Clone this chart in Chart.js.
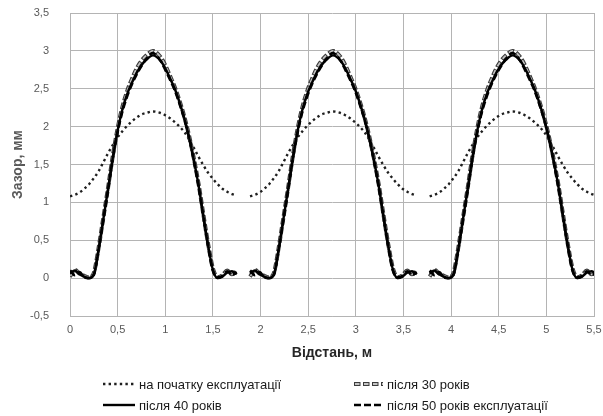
<!DOCTYPE html>
<html>
<head>
<meta charset="utf-8">
<script src="https://cdn.jsdelivr.net/npm/chart.js@4.4.1/dist/chart.umd.min.js"></script>
<style>
    html, body { margin: 0; padding: 0; background: #fff; }
    #wrap { width: 603px; height: 416px; }
</style>
</head>
<body>
<div id="wrap"><canvas id="gapChart" width="603" height="416"></canvas></div>
<script>
// ===========================
// Data
// ===========================

// distance along the track, m (null rows split the three sections)
const distance = [
    0, 0.05, 0.1, 0.15, 0.2, 0.25, 0.3, 0.35, 0.4, 0.45, 0.5, 0.55, 0.6, 0.65, 0.7, 0.75, 0.8, 0.87, 0.95, 1.0, 1.05, 1.1, 1.15, 1.2, 1.25, 1.3, 1.35, 1.4, 1.45, 1.5, 1.55, 1.6, 1.65, 1.7, 1.75,
    1.82,
    1.89, 1.94, 1.99, 2.04, 2.09, 2.14, 2.19, 2.24, 2.29, 2.34, 2.39, 2.44, 2.49, 2.54, 2.59, 2.64, 2.69, 2.76, 2.84, 2.89, 2.94, 2.99, 3.04, 3.09, 3.14, 3.19, 3.24, 3.29, 3.34, 3.39, 3.44, 3.49, 3.54, 3.59, 3.64,
    3.71,
    3.775, 3.825, 3.875, 3.925, 3.975, 4.025, 4.075, 4.125, 4.175, 4.225, 4.275, 4.325, 4.375, 4.425, 4.475, 4.525, 4.575, 4.645, 4.725, 4.775, 4.825, 4.875, 4.925, 4.975, 5.025, 5.075, 5.125, 5.175, 5.225, 5.275, 5.325, 5.375, 5.425, 5.475, 5.525
];

// gap, mm
const gapInitial = [
    1.08, 1.10, 1.13, 1.18, 1.24, 1.32, 1.41, 1.53, 1.65, 1.76, 1.86, 1.94, 2.01, 2.07, 2.12, 2.16, 2.18, 2.20, 2.18, 2.15, 2.11, 2.06, 2.00, 1.93, 1.83, 1.72, 1.60, 1.49, 1.39, 1.31, 1.24, 1.18, 1.14, 1.11, 1.09,
    null,
    1.08, 1.10, 1.13, 1.18, 1.24, 1.32, 1.41, 1.53, 1.65, 1.76, 1.86, 1.94, 2.01, 2.07, 2.12, 2.16, 2.18, 2.20, 2.18, 2.15, 2.11, 2.06, 2.00, 1.93, 1.83, 1.72, 1.60, 1.49, 1.39, 1.31, 1.24, 1.18, 1.14, 1.11, 1.09,
    null,
    1.08, 1.10, 1.13, 1.18, 1.24, 1.32, 1.41, 1.53, 1.65, 1.76, 1.86, 1.94, 2.01, 2.07, 2.12, 2.16, 2.18, 2.20, 2.18, 2.15, 2.11, 2.06, 2.00, 1.93, 1.83, 1.72, 1.60, 1.49, 1.39, 1.31, 1.24, 1.18, 1.14, 1.11, 1.09
];

const gapAfter30 = [
    0.02, 0.11, 0.06, 0.03, 0.01, 0.07, 0.40, 0.80, 1.20, 1.62, 1.98, 2.26, 2.47, 2.63, 2.77, 2.87, 2.94, 3.00, 2.92, 2.81, 2.67, 2.52, 2.34, 2.13, 1.88, 1.58, 1.24, 0.84, 0.45, 0.13, 0.01, 0.04, 0.10, 0.05, 0.09,
    null,
    0.02, 0.11, 0.06, 0.03, 0.01, 0.07, 0.40, 0.80, 1.20, 1.62, 1.98, 2.26, 2.47, 2.63, 2.77, 2.87, 2.94, 3.00, 2.92, 2.81, 2.67, 2.52, 2.34, 2.13, 1.88, 1.58, 1.24, 0.84, 0.45, 0.13, 0.01, 0.04, 0.10, 0.05, 0.09,
    null,
    0.02, 0.11, 0.06, 0.03, 0.01, 0.07, 0.40, 0.80, 1.20, 1.62, 1.98, 2.26, 2.47, 2.63, 2.77, 2.87, 2.94, 3.00, 2.92, 2.81, 2.67, 2.52, 2.34, 2.13, 1.88, 1.58, 1.24, 0.84, 0.45, 0.13, 0.01, 0.04, 0.10, 0.05, 0.09
];

const gapAfter40 = [
    0.06, 0.10, 0.05, 0.02, 0.00, 0.05, 0.38, 0.78, 1.18, 1.60, 1.95, 2.23, 2.43, 2.58, 2.71, 2.81, 2.88, 2.94, 2.87, 2.77, 2.64, 2.50, 2.32, 2.11, 1.86, 1.56, 1.22, 0.82, 0.43, 0.11, 0.00, 0.02, 0.07, 0.09, 0.05,
    null,
    0.06, 0.10, 0.05, 0.02, 0.00, 0.05, 0.38, 0.78, 1.18, 1.60, 1.95, 2.23, 2.43, 2.58, 2.71, 2.81, 2.88, 2.94, 2.87, 2.77, 2.64, 2.50, 2.32, 2.11, 1.86, 1.56, 1.22, 0.82, 0.43, 0.11, 0.00, 0.02, 0.07, 0.09, 0.05,
    null,
    0.06, 0.10, 0.05, 0.02, 0.00, 0.05, 0.38, 0.78, 1.18, 1.60, 1.95, 2.23, 2.43, 2.58, 2.71, 2.81, 2.88, 2.94, 2.87, 2.77, 2.64, 2.50, 2.32, 2.11, 1.86, 1.56, 1.22, 0.82, 0.43, 0.11, 0.00, 0.02, 0.07, 0.09, 0.05
];

const gapAfter50 = [
    0.10, 0.04, 0.08, 0.01, 0.00, 0.04, 0.37, 0.77, 1.17, 1.58, 1.93, 2.20, 2.40, 2.56, 2.69, 2.80, 2.89, 2.97, 2.87, 2.75, 2.62, 2.48, 2.30, 2.10, 1.85, 1.55, 1.21, 0.81, 0.42, 0.10, 0.01, 0.03, 0.09, 0.04, 0.08,
    null,
    0.10, 0.04, 0.08, 0.01, 0.00, 0.04, 0.37, 0.77, 1.17, 1.58, 1.93, 2.20, 2.40, 2.56, 2.69, 2.80, 2.89, 2.97, 2.87, 2.75, 2.62, 2.48, 2.30, 2.10, 1.85, 1.55, 1.21, 0.81, 0.42, 0.10, 0.01, 0.03, 0.09, 0.04, 0.08,
    null,
    0.10, 0.04, 0.08, 0.01, 0.00, 0.04, 0.37, 0.77, 1.17, 1.58, 1.93, 2.20, 2.40, 2.56, 2.69, 2.80, 2.89, 2.97, 2.87, 2.75, 2.62, 2.48, 2.30, 2.10, 1.85, 1.55, 1.21, 0.81, 0.42, 0.10, 0.01, 0.03, 0.09, 0.04, 0.08
];

const xTicks = [0, 0.5, 1, 1.5, 2, 2.5, 3, 3.5, 4, 4.5, 5, 5.5];
const yTicks = [-0.5, 0, 0.5, 1, 1.5, 2, 2.5, 3, 3.5];

const seriesLabels = [
    'на початку експлуатації',
    'після 30 років',
    'після 40 років',
    'після 50 років експлуатації'
];

// ===========================
// Line styles (shared by chart and legend)
// ===========================

const FONT = '"Liberation Sans", Arial, sans-serif';

const strokes = [
    [{ color: '#1f1f1f', width: 2.4, dash: [2.4, 3.2] }],
    [{ color: '#3c3c3c', width: 4, dash: [6.5, 2.5] },
     { color: '#c4c4c4', width: 1.8, dash: [4.5, 4.5], offset: -1 }],
    [{ color: '#000000', width: 2.4, dash: [] }],
    [{ color: '#000000', width: 2.6, dash: [7, 3] }]
];

function toPoints(values) {
    return distance.map((x, i) => ({ x: x, y: values[i] }));
}

function fmt(v) {
    return String(Number(v.toFixed(1))).replace('.', ',');
}

function lineDataset(values, style, order, label) {
    return {
        label: label,
        data: toPoints(values),
        borderColor: style.color,
        borderWidth: style.width,
        borderDash: style.dash,
        borderDashOffset: style.offset || 0,
        borderCapStyle: 'butt',
        pointRadius: 0,
        fill: false,
        spanGaps: false,
        cubicInterpolationMode: 'monotone',
        order: order
    };
}

// ===========================
// Legend in two columns below the axis
// ===========================

const columnLegend = {
    id: 'columnLegend',
    afterDraw(chart) {
        const ctx = chart.ctx;
        const slots = [
            { x: 103, y: 384, w: 32 },
            { x: 354, y: 384, w: 29 },
            { x: 103, y: 405, w: 32 },
            { x: 354, y: 405, w: 29 }
        ];
        ctx.save();
        ctx.font = '13px ' + FONT;
        ctx.textBaseline = 'middle';
        seriesLabels.forEach((label, i) => {
            const s = slots[i];
            strokes[i].forEach(st => {
                ctx.beginPath();
                ctx.lineWidth = st.width;
                ctx.strokeStyle = st.color;
                ctx.setLineDash(st.dash);
                ctx.lineDashOffset = st.offset || 0;
                ctx.moveTo(s.x, s.y);
                ctx.lineTo(s.x + s.w, s.y);
                ctx.stroke();
            });
            ctx.setLineDash([]);
            ctx.fillStyle = '#1a1a1a';
            ctx.fillText(label, s.x + s.w + 4, s.y + 1);
        });
        ctx.restore();
    }
};

// ===========================
// Chart
// ===========================

const ctx = document.getElementById('gapChart');

// tick marks are kept but invisible: they push the labels away from the
// plot without adding the tick padding to the chart-area margins
const hiddenTicks = 'rgba(0,0,0,0)';

new Chart(ctx, {
    type: 'line',
    data: {
        datasets: [
            lineDataset(gapAfter50, strokes[3][0], 1, seriesLabels[3]),
            lineDataset(gapAfter40, strokes[2][0], 2, seriesLabels[2]),
            lineDataset(gapAfter30, strokes[1][1], 3, seriesLabels[1] + ' inner'),
            lineDataset(gapAfter30, strokes[1][0], 4, seriesLabels[1]),
            lineDataset(gapInitial, strokes[0][0], 5, seriesLabels[0])
        ]
    },
    options: {
        responsive: false,
        animation: false,
        layout: {
            padding: { left: 0, right: 9, top: 13, bottom: 50 }
        },
        plugins: {
            legend: { display: false },
            tooltip: { enabled: false }
        },
        scales: {
            x: {
                type: 'linear',
                min: 0,
                max: 5.5,
                afterBuildTicks: scale => { scale.ticks = xTicks.map(v => ({ value: v })); },
                afterFit: scale => { scale.height = 50; },
                grid: { color: '#b4b4b4', lineWidth: 1, drawTicks: true, tickLength: 7, tickColor: hiddenTicks },
                border: { color: '#b4b4b4' },
                ticks: {
                    padding: 0,
                    color: '#595959',
                    font: { family: FONT, size: 11 },
                    maxRotation: 0,
                    callback: v => fmt(v)
                },
                title: {
                    display: true,
                    text: 'Відстань, м',
                    color: '#262626',
                    font: { family: FONT, size: 14, weight: 'bold' },
                    padding: { top: 0, bottom: 4 }
                }
            },
            y: {
                min: -0.5,
                max: 3.5,
                afterBuildTicks: scale => { scale.ticks = yTicks.map(v => ({ value: v })); },
                afterFit: scale => { scale.width = 70; },
                grid: { color: '#b4b4b4', lineWidth: 1, drawTicks: true, tickLength: 21, tickColor: hiddenTicks },
                border: { color: '#b4b4b4' },
                ticks: {
                    padding: 0,
                    color: '#595959',
                    font: { family: FONT, size: 11 },
                    callback: v => fmt(v)
                },
                title: {
                    display: true,
                    text: 'Зазор, мм',
                    color: '#595959',
                    font: { family: FONT, size: 14, weight: 'bold' },
                    padding: { top: 10, bottom: 0 }
                }
            }
        }
    },
    plugins: [columnLegend]
});
</script>
</body>
</html>
